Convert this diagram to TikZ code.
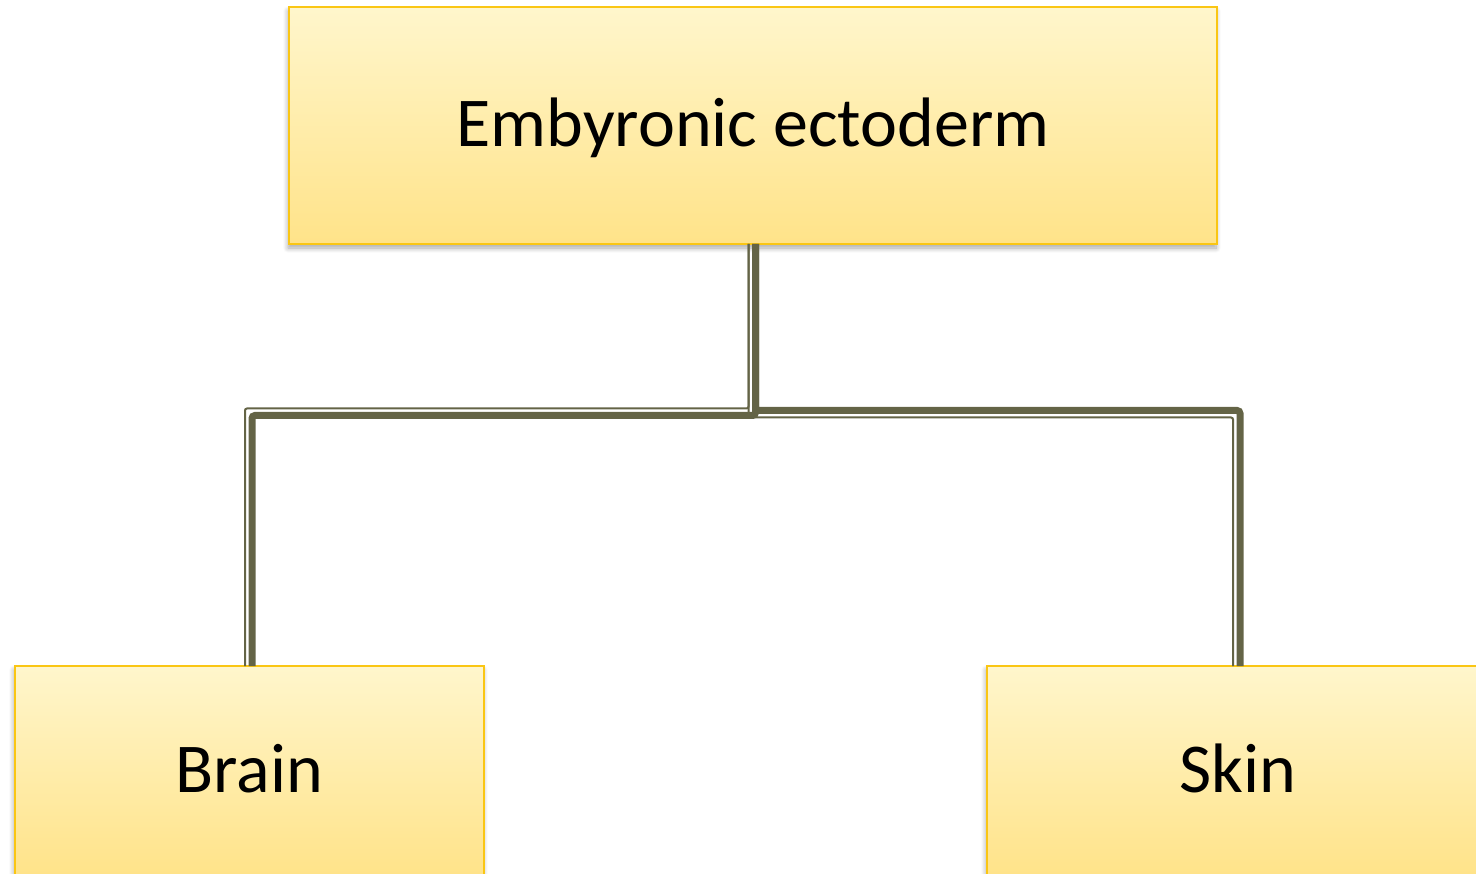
\documentclass[tikz,border=0pt]{standalone}
\usepackage{fontspec}
\setmainfont{Carlito}
\usetikzlibrary{calc,shadows.blur}
\definecolor{boxtop}{RGB}{255,246,204}
\definecolor{boxbot}{RGB}{255,227,137}
\definecolor{boxline}{RGB}{250,198,20}
\definecolor{conn}{RGB}{100,100,70}
\tikzset{
  box/.style={draw=boxline, line width=2pt, top color=boxtop, bottom color=boxbot,
    inner sep=0pt, outer sep=0pt, text height=46pt, text depth=4pt,
    font=\fontsize{70}{78}\selectfont,
    blur shadow={shadow xshift=-1pt, shadow yshift=-4pt, shadow blur steps=8, shadow opacity=35, shadow blur radius=5pt}},
  thickc/.style={draw=conn, line width=7pt, rounded corners=3pt},
  thinc/.style={draw=conn, line width=2pt, rounded corners=2pt}
}
\begin{document}
\begin{tikzpicture}[x=1pt,y=-1pt]
\useasboundingbox (0,0) rectangle (1476,874);
\node[box, minimum width=928pt, minimum height=237pt] (top) at (753,125.5) {Embyronic ectoderm};
\node[box, minimum width=469pt, minimum height=210pt] (brain) at (249.5,771) {Brain};
\node[box, minimum width=501pt, minimum height=210pt] (skin) at (1237.5,771) {Skin};
\coordinate (hub) at (753,413);
% left connector
\draw[thickc] ($(top.south)+(2.5,0)$) |- ($(brain.north |- hub)+(2.5,2.5)$) -- ($(brain.north)+(2.5,0)$);
\draw[thinc] ($(top.south)+(-4.5,0)$) |- ($(brain.north |- hub)+(-4.5,-4.5)$) -- ($(brain.north)+(-4.5,0)$);
% right connector
\draw[thickc] ($(top.south)+(2.5,0)$) |- ($(skin.north |- hub)+(2.5,-2.5)$) -- ($(skin.north)+(2.5,0)$);
\draw[thinc] ($(top.south)+(-4.5,0)$) |- ($(skin.north |- hub)+(-4.5,4.5)$) -- ($(skin.north)+(-4.5,0)$);
\end{tikzpicture}
\end{document}
